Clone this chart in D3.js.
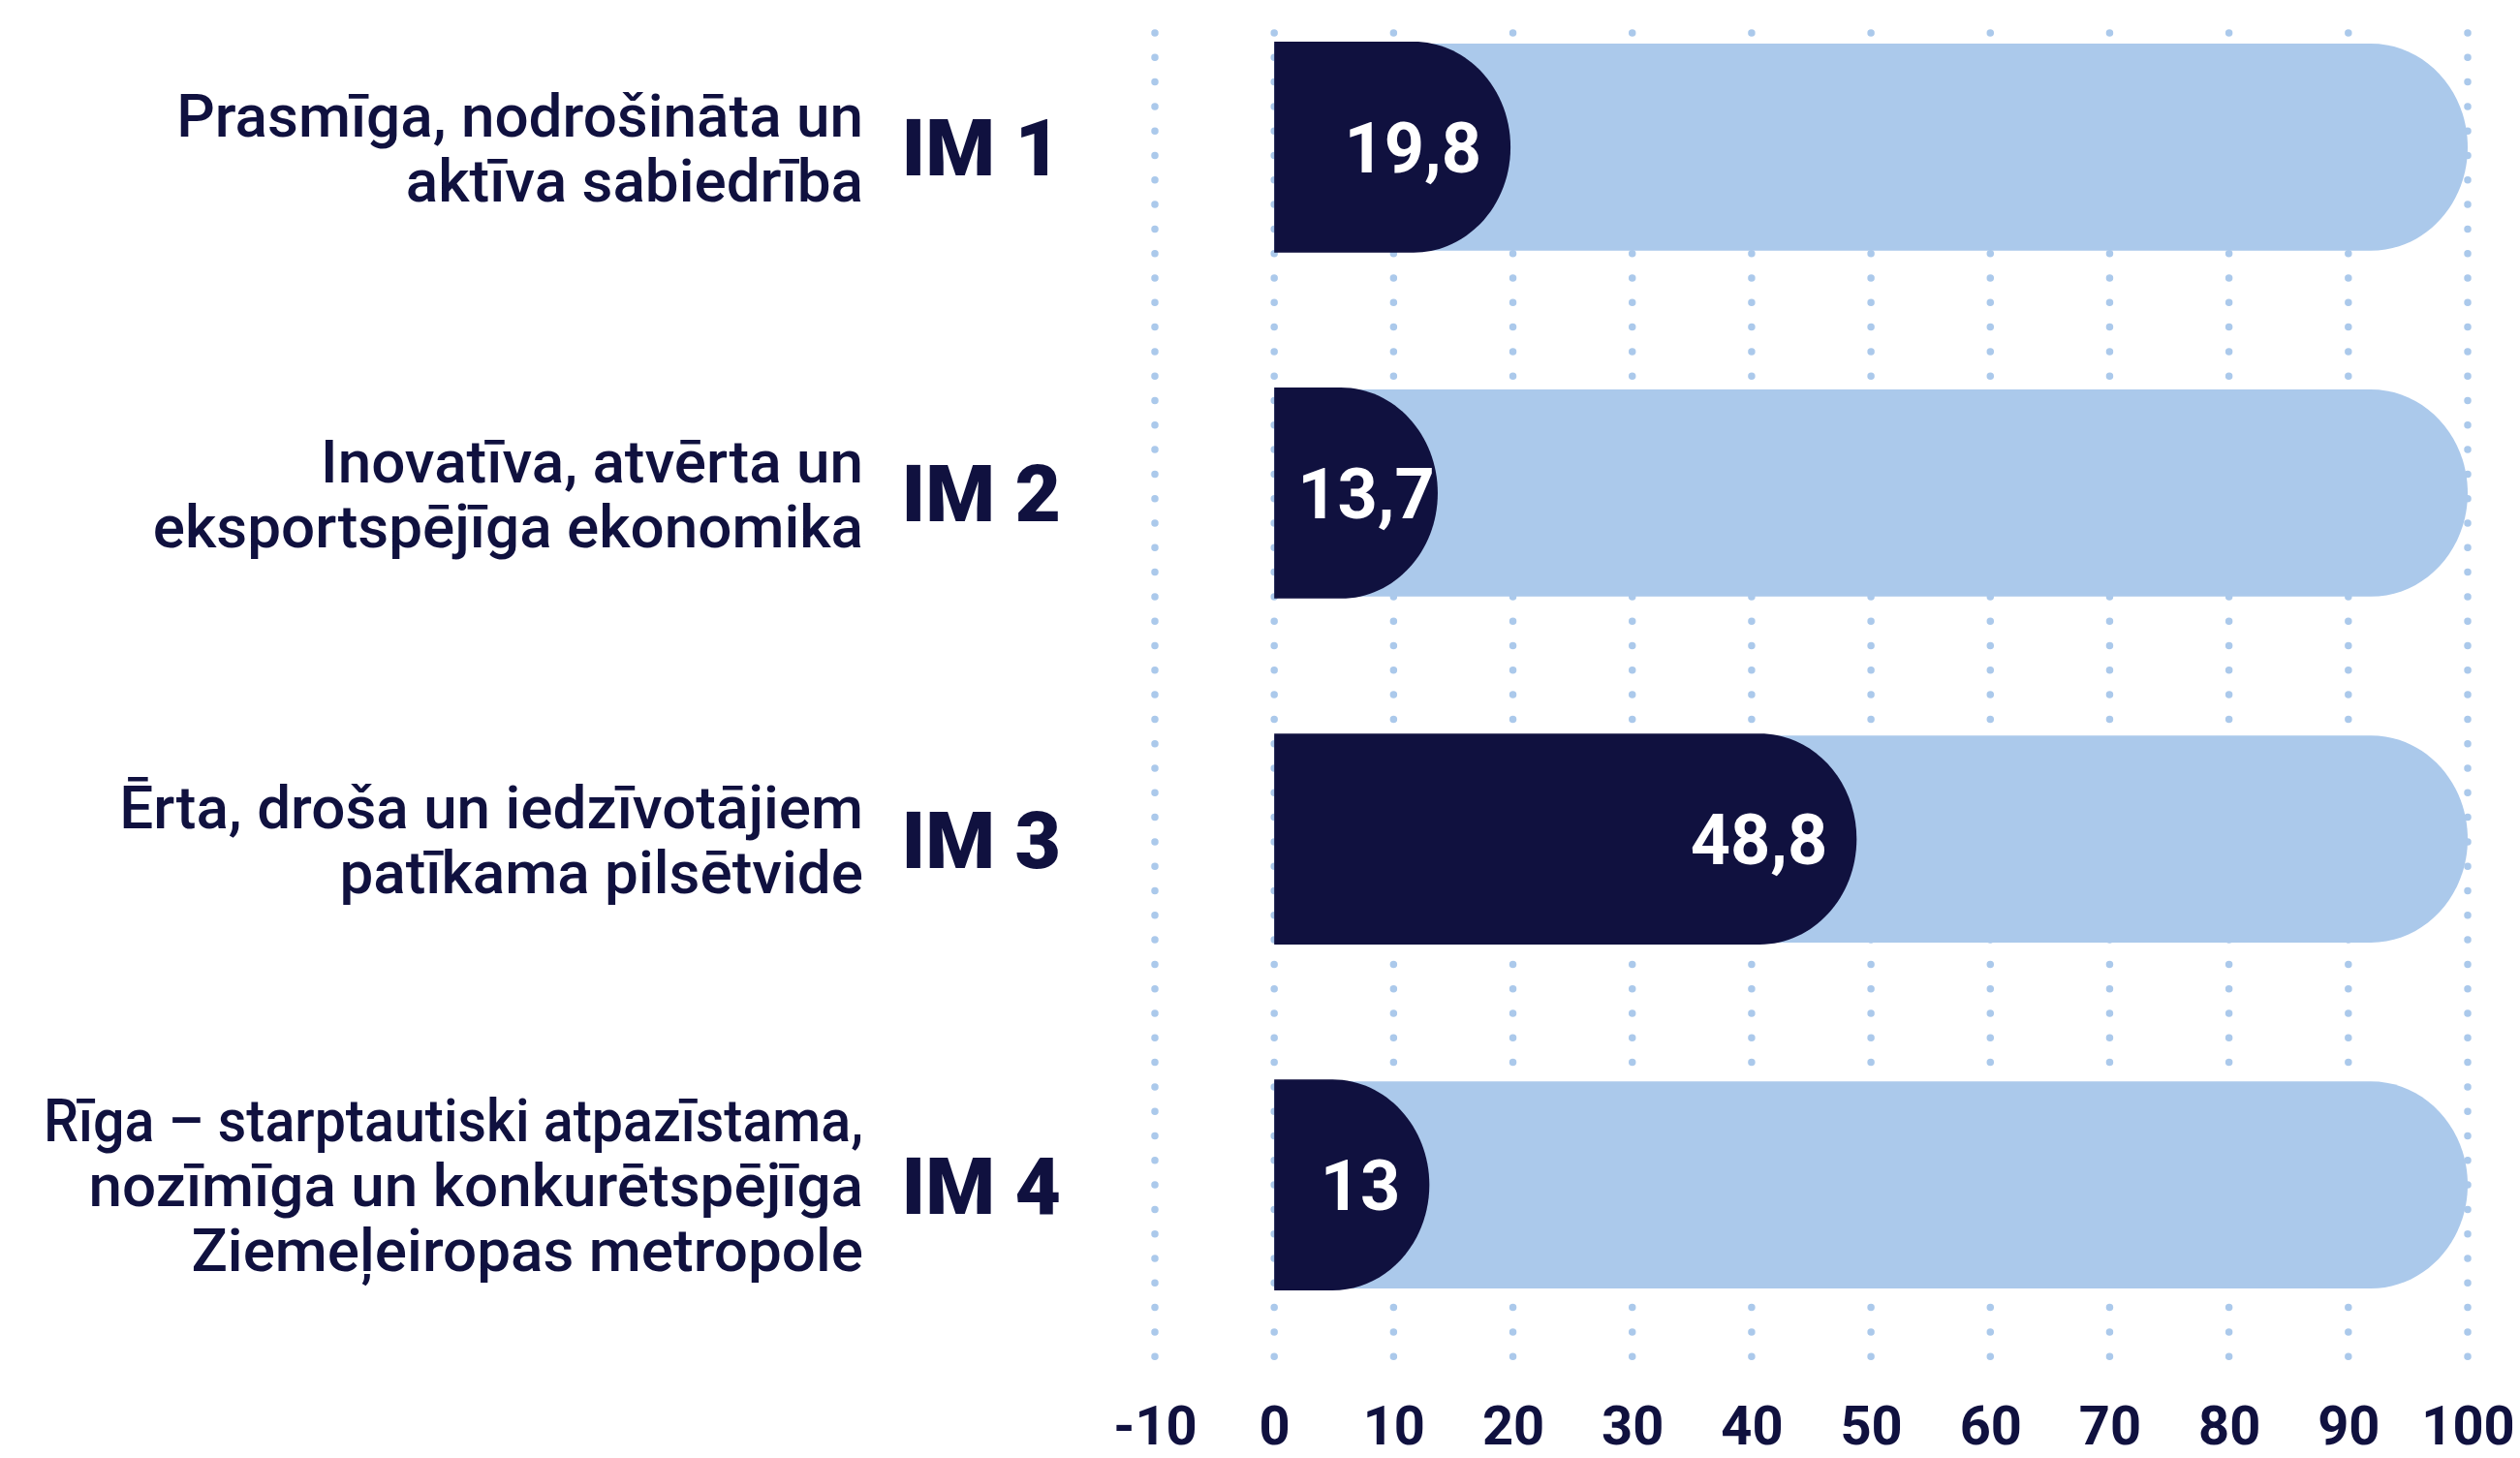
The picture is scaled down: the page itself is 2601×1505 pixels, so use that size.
<!DOCTYPE html>
<html><head><meta charset="utf-8">
<script src="https://cdn.jsdelivr.net/npm/d3@7/dist/d3.min.js"></script>
<style>
html,body{margin:0;padding:0;background:#fff;}
svg{display:block;}
</style></head>
<body>
<svg id="chart" width="2601" height="1505"></svg>
<script>
// ---- data ----
const codes = ["IM 1", "IM 2", "IM 3", "IM 4"];
const categoryLines = [
  ["Prasmīga, nodrošināta un", "aktīva sabiedrība"],
  ["Inovatīva, atvērta un", "eksportspējīga ekonomika"],
  ["Ērta, droša un iedzīvotājiem", "patīkama pilsētvide"],
  ["Rīga – starptautiski atpazīstama,", "nozīmīga un konkurētspējīga", "Ziemeļeiropas metropole"]
];
const values = [19.8, 13.7, 48.8, 13];
const valueLabels = ["19,8", "13,7", "48,8", "13"];
const totals = [100, 100, 100, 100];
const tickValues = [-10, 0, 10, 20, 30, 40, 50, 60, 70, 80, 90, 100];
const tickLabels = ["-10", "0", "10", "20", "30", "40", "50", "60", "70", "80", "90", "100"];

// ---- styles ----
const DARK = "#10113f";
const LIGHT = "#abc9eb";
const FONT = "Roboto, 'Open Sans', sans-serif";

const svg = d3.select("#chart");
const x = d3.scaleLinear().domain([-10, 100]).range([1192, 2547]);
const y = d3.scaleBand().domain(codes).range([43, 1332]).paddingInner(0.39).paddingOuter(0);
const bh = y.bandwidth();
const rx = 100;

// gridlines (dotted)
svg.append("g").selectAll("line").data(tickValues).join("line")
  .attr("x1", d => x(d)).attr("x2", d => x(d))
  .attr("y1", 34).attr("y2", 1424)
  .attr("stroke", LIGHT).attr("stroke-width", 7.5)
  .attr("stroke-linecap", "round")
  .attr("stroke-dasharray", "0 25.3");

function capsule(x0, x1, yTop, h) {
  const r = Math.min(rx, x1 - x0);
  const p = d3.path();
  p.moveTo(x0, yTop);
  p.lineTo(x1 - r, yTop);
  const ry = h / 2, k = 0.5523;
  p.bezierCurveTo(x1 - r + r * k, yTop, x1, yTop + ry - ry * k, x1, yTop + ry);
  p.bezierCurveTo(x1, yTop + ry + ry * k, x1 - r + r * k, yTop + h, x1 - r, yTop + h);
  p.lineTo(x0, yTop + h);
  p.closePath();
  return p.toString();
}

const rows = codes.map((c, i) => ({code: c, v: values[i], t: totals[i], lab: valueLabels[i], lines: categoryLines[i]}));

const g = svg.append("g");
g.selectAll("path.bg").data(rows).join("path").attr("class", "bg")
  .attr("d", d => capsule(x(0), x(d.t), y(d.code) + 2, bh - 4))
  .attr("fill", LIGHT);
g.selectAll("path.fg").data(rows).join("path").attr("class", "fg")
  .attr("d", d => capsule(x(0), x(d.v), y(d.code), bh))
  .attr("fill", DARK);

// value labels: right-aligned near bar end, but never closer than ~25px to the bar start
g.selectAll("text.val").data(rows).join("text").attr("class", "val")
  .attr("y", d => y(d.code) + bh / 2)
  .attr("dy", "0.36em")
  .attr("fill", "#fff")
  .attr("font-family", FONT).attr("font-weight", 700)
  .attr("font-size", 72)
  .text(d => d.lab)
  .each(function(d) {
    const w = this.getComputedTextLength();
    let endX = x(d.v) - 30;
    if (endX - w < x(0) + 24) endX = x(0) + 24 + w;
    d3.select(this).attr("x", endX).attr("text-anchor", "end");
  });

// IM codes
g.selectAll("text.code").data(rows).join("text").attr("class", "code")
  .attr("x", 1095)
  .attr("y", d => y(d.code) + bh / 2)
  .attr("dy", "0.36em")
  .attr("text-anchor", "end")
  .attr("fill", DARK)
  .attr("font-family", FONT).attr("font-weight", 900)
  .attr("font-size", 82)
  .text(d => d.code);

// category labels
const lh = 67;
const maxW = 846;
const cat = g.selectAll("text.cat").data(rows).join("text").attr("class", "cat")
  .attr("text-anchor", "end")
  .attr("fill", DARK)
  .attr("font-family", FONT).attr("font-weight", 500)
  .attr("font-size", 62);
cat.each(function(d) {
  const n = d.lines.length;
  const cy = y(d.code) + bh / 2;
  d3.select(this).selectAll("tspan").data(d.lines).join("tspan")
    .attr("x", 891)
    .attr("y", (l, j) => cy + (j - (n - 1) / 2) * lh)
    .attr("dy", "0.36em")
    .text(l => l)
    .each(function() {
      const w = this.getComputedTextLength();
      if (w > maxW) d3.select(this).attr("textLength", maxW).attr("lengthAdjust", "spacingAndGlyphs");
    });
});

// x axis
const axis = d3.axisBottom(x).tickValues(tickValues).tickSize(0).tickPadding(0)
  .tickFormat((d, i) => tickLabels[i]);
const ax = svg.append("g").attr("transform", "translate(0,1451)").call(axis);
ax.select(".domain").remove();
ax.selectAll("text")
  .attr("fill", DARK)
  .attr("font-family", FONT).attr("font-weight", 700)
  .attr("font-size", 56)
  .attr("dy", "0.71em");
</script>
</body></html>
